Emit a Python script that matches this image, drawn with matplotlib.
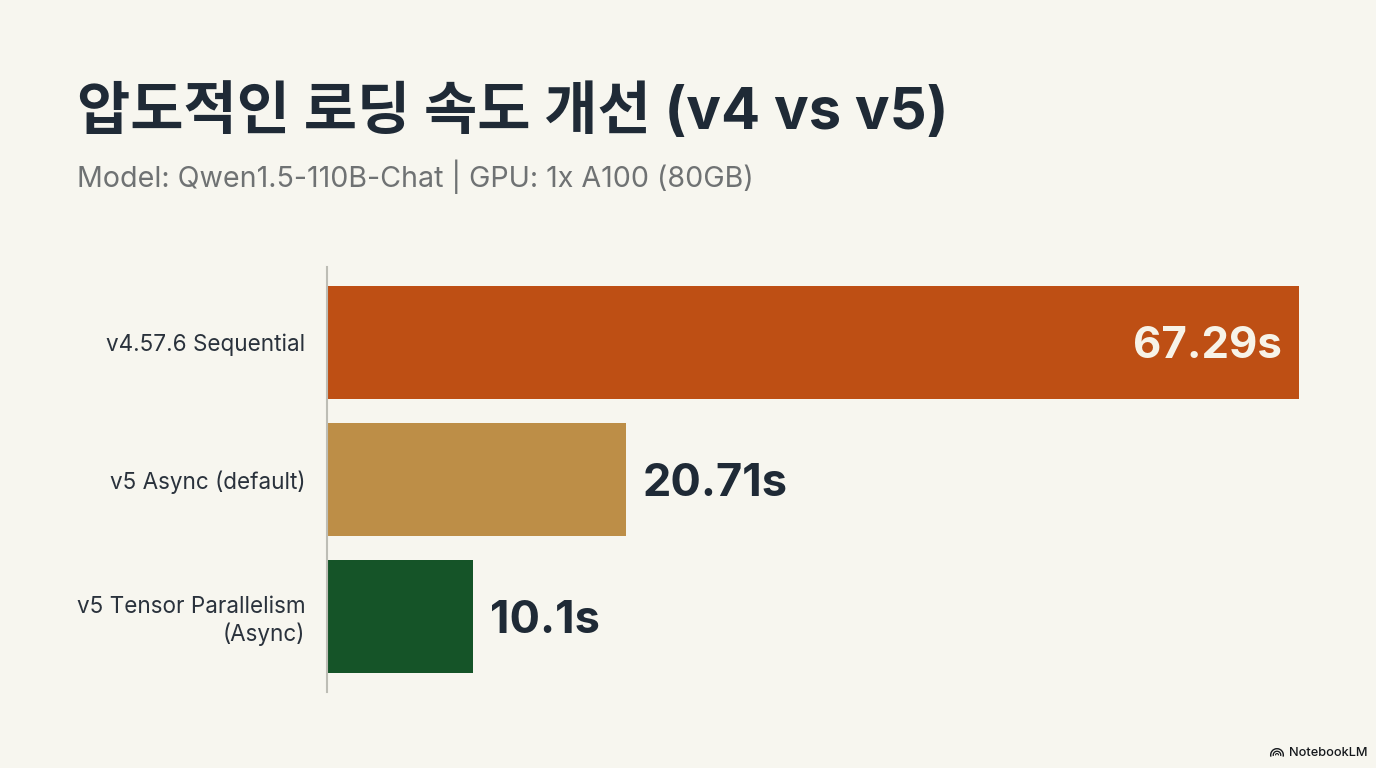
import matplotlib
matplotlib.use('Agg')
import matplotlib.pyplot as plt
from matplotlib.patches import Wedge

# Data
labels = ['v4.57.6 Sequential', 'v5 Async (default)', 'v5 Tensor Parallelism\n(Async)']
values = [67.29, 20.71, 10.1]
value_labels = ['67.29s', '20.71s', '10.1s']
colors = ['#BE4F14', '#BD8E47', '#155428']

title = '압도적인 로딩 속도 개선 (v4 vs v5)'
subtitle = 'Model: Qwen1.5-110B-Chat | GPU: 1x A100 (80GB)'

bg = '#F7F6EF'
dark = '#1F2A36'

plt.rcParams['font.family'] = ['Noto Sans CJK KR', 'DejaVu Sans']

W, H = 1376, 768
fig = plt.figure(figsize=(W / 100, H / 100), dpi=100, facecolor=bg)

# Axes spans the baseline height, x scale fitted to the long bar
ax = fig.add_axes([327 / W, 1 - 692 / H, (1299 - 327) / W, (692 - 267) / H])
ax.set_facecolor('none')
y = [0, 1, 2]
ax.barh(y, values, height=0.826, color=colors, zorder=2)
ax.set_xlim(0, 67.29)
ax.set_ylim(2.55, -0.55)
ax.set_xticks([])
ax.set_yticks(y)
ax.set_yticklabels(labels, fontsize=16.2, color='#2A323C', family='Inter', linespacing=1.2)
ax.tick_params(axis='y', length=0, pad=15.5)
for s in ['top', 'right', 'bottom']:
    ax.spines[s].set_visible(False)
ax.spines['left'].set_color('#BDBDB5')
ax.spines['left'].set_linewidth(1.5)
ax.spines['left'].set_zorder(3)

# Value labels
for i, (v, t) in enumerate(zip(values, value_labels)):
    if v > 50:
        ax.annotate(t, (v, i), xytext=(-12, -3), textcoords='offset points', ha='right', va='center',
                    fontsize=31.5, fontweight='bold', family='Inter', color='#F7F3E8')
    else:
        ax.annotate(t, (v, i), xytext=(12, -3), textcoords='offset points', ha='left', va='center',
                    fontsize=32.5, fontweight='bold', family='Inter', color=dark)

# Title block
fig.text(77 / W, 1 - 113 / H, title, fontsize=41.7, fontweight='bold', color=dark, va='center', ha='left',
         family=['Inter', 'Noto Sans CJK KR'])
fig.text(77 / W, 1 - 177 / H, subtitle, fontsize=20.6, color='#6F7273', va='center', ha='left', family='Inter')

# Watermark and its small logo
fig.text(1289 / W, 1 - 753 / H, 'NotebookLM', fontsize=9.2, fontweight='medium', color='#15181C', va='center',
         ha='left', family='Inter')
for r, w in [(7, 1.4), (4.4, 1.3), (2, 1.1)]:
    fig.add_artist(Wedge((1277, H - 755), r, -15, 195, width=w, facecolor='#15181C', edgecolor='none',
                         transform=None))

fig.savefig('out.png', dpi=100, facecolor=bg)
